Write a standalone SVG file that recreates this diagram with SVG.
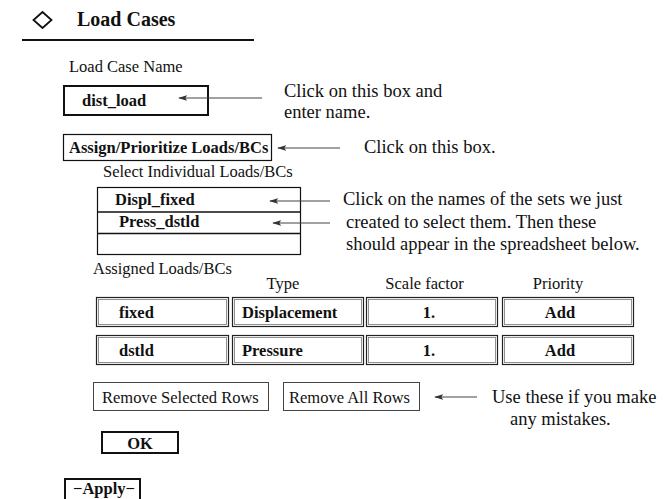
<svg xmlns="http://www.w3.org/2000/svg" width="669" height="499" viewBox="0 0 669 499">
<defs>
<style>
text{font-family:"Liberation Serif","Times New Roman",serif;fill:#111}
.ui{font-size:16.5px}
.b{font-weight:bold}
.co{font-size:18.5px}
.box{fill:none;stroke:#111;stroke-width:1.2}
.thick{fill:none;stroke:#111;stroke-width:2}
.cell{fill:none;stroke:#222;stroke-width:1.2}
.cellin{fill:none;stroke:#777;stroke-width:0.8}
.btn{fill:none;stroke:#444;stroke-width:1}
.arr{stroke:#444;stroke-width:1.1;fill:none;marker-end:url(#ah)}
</style>
<marker id="ah" viewBox="0 0 10 6" refX="9" refY="3" markerWidth="9" markerHeight="5.4" markerUnits="userSpaceOnUse" orient="auto">
<path d="M0,0 L10,3 L0,6 L2,3 z" fill="#333"/>
</marker>
</defs>

<g id="header">
<path d="M42.5,12 L51.5,20 L42.5,28 L33.5,20 Z" fill="#fff" stroke="#111" stroke-width="1.8"/>
<text x="77" y="26" class="b" font-size="20">Load Cases</text>
<line x1="22" y1="40" x2="254" y2="40" stroke="#111" stroke-width="2"/>
</g>

<g id="load-case-name">
<text x="69" y="72" class="ui">Load Case Name</text>
<rect x="64" y="86" width="144" height="29" class="thick"/>
<text x="82" y="106" class="ui b">dist_load</text>
</g>

<g id="assign-button">
<rect x="63.5" y="134.5" width="208" height="26" class="box"/>
<text x="69" y="153" class="ui b">Assign/Prioritize Loads/BCs</text>
</g>

<g id="select-list">
<text x="103" y="177" class="ui">Select Individual Loads/BCs</text>
<rect x="97.5" y="187.5" width="203" height="67" class="box" stroke-width="1.5"/>
<line x1="97.5" y1="212" x2="300.5" y2="212" stroke="#111" stroke-width="1.5"/>
<line x1="97.5" y1="233.5" x2="300.5" y2="233.5" stroke="#111" stroke-width="1.5"/>
<text x="115" y="205" class="ui b">Displ_fixed</text>
<text x="119" y="227" class="ui b">Press_dstld</text>
</g>

<g id="assigned-table">
<text x="93" y="274" class="ui">Assigned Loads/BCs</text>
<text x="283" y="289" class="ui" text-anchor="middle">Type</text>
<text x="424.5" y="289" class="ui" text-anchor="middle">Scale factor</text>
<text x="558" y="289" class="ui" text-anchor="middle">Priority</text>
<rect x="96.5" y="297.5" width="132" height="29" class="cell"/>
<rect x="98.5" y="299.5" width="128" height="25" class="cellin"/>
<rect x="232.5" y="297.5" width="131" height="29" class="cell"/>
<rect x="234.5" y="299.5" width="127" height="25" class="cellin"/>
<rect x="366.5" y="297.5" width="131" height="29" class="cell"/>
<rect x="368.5" y="299.5" width="127" height="25" class="cellin"/>
<rect x="502.5" y="297.5" width="131" height="29" class="cell"/>
<rect x="504.5" y="299.5" width="127" height="25" class="cellin"/>
<text x="119" y="318" class="ui b">fixed</text>
<text x="242" y="318" class="ui b">Displacement</text>
<text x="429" y="318" class="ui b" text-anchor="middle">1.</text>
<text x="560" y="318" class="ui b" text-anchor="middle">Add</text>
<rect x="96.5" y="335.5" width="132" height="29" class="cell"/>
<rect x="98.5" y="337.5" width="128" height="25" class="cellin"/>
<rect x="232.5" y="335.5" width="131" height="29" class="cell"/>
<rect x="234.5" y="337.5" width="127" height="25" class="cellin"/>
<rect x="366.5" y="335.5" width="131" height="29" class="cell"/>
<rect x="368.5" y="337.5" width="127" height="25" class="cellin"/>
<rect x="502.5" y="335.5" width="131" height="29" class="cell"/>
<rect x="504.5" y="337.5" width="127" height="25" class="cellin"/>
<text x="119" y="356" class="ui b">dstld</text>
<text x="242" y="356" class="ui b">Pressure</text>
<text x="429" y="356" class="ui b" text-anchor="middle">1.</text>
<text x="560" y="356" class="ui b" text-anchor="middle">Add</text>
</g>

<g id="remove-selected">
<rect x="93.5" y="382.5" width="175" height="28" class="btn"/>
<text x="102" y="403" class="ui">Remove Selected Rows</text>
</g>
<g id="remove-all">
<rect x="283.5" y="382.5" width="136" height="28" class="btn"/>
<text x="289" y="403" class="ui">Remove All Rows</text>
</g>

<g id="ok-button">
<rect x="102" y="432" width="76" height="21" class="thick"/>
<text x="140" y="449" class="ui b" text-anchor="middle">OK</text>
</g>

<g id="apply-button">
<rect x="65" y="479" width="75" height="24" class="thick" stroke-width="1.6"/>
<text x="73" y="494" class="ui b">−Apply−</text>
</g>

<g id="callouts">
<text x="284" y="97" class="co">Click on this box and</text>
<text x="284" y="118" class="co">enter name.</text>
<text x="364" y="153" class="co">Click on this box.</text>
<text x="343" y="205" class="co">Click on the names of the sets we just</text>
<text x="346" y="228" class="co">created to select them. Then these</text>
<text x="346" y="250" class="co">should appear in the spreadsheet below.</text>
<text x="492" y="403" class="co">Use these if you make</text>
<text x="510" y="425" class="co">any mistakes.</text>
</g>

<g id="connectors">
<line x1="262" y1="98" x2="179" y2="98" class="arr"/>
<line x1="340" y1="148" x2="278" y2="148" class="arr"/>
<line x1="330" y1="201" x2="270" y2="201" class="arr"/>
<line x1="330" y1="223" x2="273" y2="223" class="arr"/>
<line x1="477" y1="397" x2="435" y2="397" class="arr"/>
</g>
</svg>
